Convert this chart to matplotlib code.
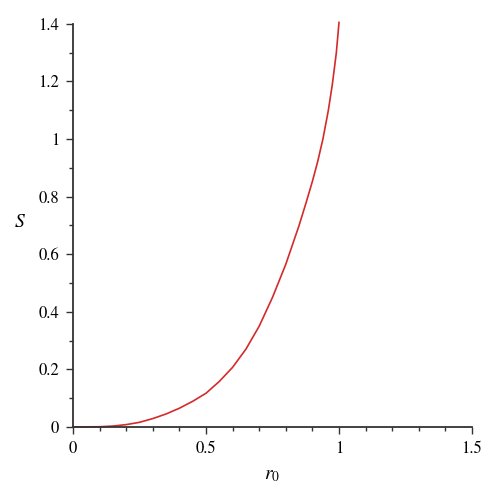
import numpy as np
import matplotlib
matplotlib.use("Agg")
import matplotlib.pyplot as plt

# values
r0 = [0, 0.1, 0.15, 0.2, 0.25, 0.3, 0.35, 0.4, 0.45, 0.5, 0.55, 0.6, 0.65, 0.7,
      0.75, 0.8, 0.85, 0.875, 0.9, 0.92, 0.94, 0.96, 0.975, 0.99, 1.0]
S = [0, 0.0006, 0.003, 0.008, 0.016, 0.029, 0.045, 0.065, 0.089, 0.117, 0.158,
     0.207, 0.27, 0.35, 0.45, 0.565, 0.70, 0.775, 0.853, 0.922, 1.002, 1.1,
     1.19, 1.3, 1.405]

xticks = [0, 0.5, 1, 1.5]
xticklabels = ["0", "0.5", "1", "1.5"]
yticks = [0, 0.2, 0.4, 0.6, 0.8, 1.0, 1.2, 1.4]
yticklabels = ["0", "0.2", "0.4", "0.6", "0.8", "1", "1.2", "1.4"]

plt.rcParams["font.family"] = "STIXGeneral"
plt.rcParams["mathtext.fontset"] = "stix"

fig = plt.figure(figsize=(5, 4.97), dpi=100)
ax = fig.add_axes([0.146, 0.141, 0.798, 0.811])

ax.plot(r0, S, color="#d42a2a", lw=1.2, clip_on=False)

ax.set_xlim(0, 1.5)
ax.set_ylim(0, 1.4)
ax.set_xticks(xticks)
ax.set_xticklabels(xticklabels, fontsize=12)
ax.set_yticks(yticks)
ax.set_yticklabels(yticklabels, fontsize=12)
ax.set_xticks(np.arange(0, 1.5, 0.1), minor=True)
ax.set_yticks(np.arange(0, 1.4, 0.1), minor=True)
ax.tick_params(which="major", length=5, width=1, color="#333333", pad=5)
ax.tick_params(which="minor", length=3, width=1, color="#333333")

for side in ["top", "right"]:
    ax.spines[side].set_visible(False)
for side in ["left", "bottom"]:
    ax.spines[side].set_linewidth(1.3)
    ax.spines[side].set_color("#333333")

ax.text(-0.2, 0.71, "$S$", fontsize=14, ha="center", va="center")
ax.text(0.75, -0.17, "$r_0$", fontsize=14, ha="center", va="center")

fig.savefig("out.png", dpi=100)
